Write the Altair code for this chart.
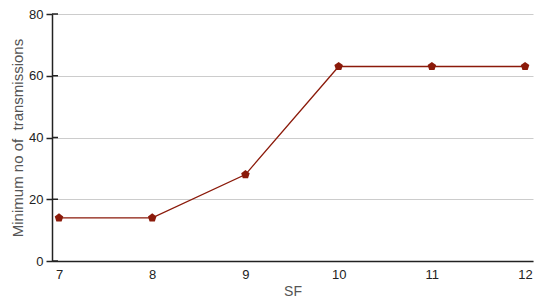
import altair as alt
import pandas as pd

sf = [7, 8, 9, 10, 11, 12]
min_tx = [14, 14, 28, 63, 63, 63]
y_ticks = [0, 20, 40, 60, 80]

df = pd.DataFrame({"SF": sf, "v": min_tx})
tick_df = pd.DataFrame({"t": y_ticks})

pent = "M0,-1L0.951,-0.309L0.588,0.809L-0.588,0.809L-0.951,-0.309Z"
color = "#8B1A0A"
font = "Liberation Sans"

xscale = alt.Scale(domain=[6.925, 12.085], nice=False, zero=False)
yscale = alt.Scale(domain=[0, 80], nice=False)

x_enc = alt.X("SF:Q", scale=xscale,
              axis=alt.Axis(values=sf, format="d", title="SF", grid=False, ticks=False,
                            domainColor="#222", domainWidth=1.5,
                            labelPadding=7, labelFontSize=13, labelColor="#222",
                            titleFontSize=14, titleFontWeight="normal",
                            titleColor="#555", titlePadding=3, labelFont=font, titleFont=font))
y_enc = alt.Y("v:Q", scale=yscale,
              axis=alt.Axis(values=y_ticks, title="Minimum no of\u00a0 transmissions",
                            grid=True, gridColor="#cccccc", gridWidth=1,
                            domainColor="#222", domainWidth=1.5,
                            tickColor="#222", tickSize=6, tickWidth=1.5,
                            labelPadding=3, labelFontSize=13, labelColor="#222",
                            titleFontSize=15, titleFontWeight="normal",
                            titleColor="#555", titlePadding=3, labelFont=font, titleFont=font))

line = alt.Chart(df).mark_line(color=color, strokeWidth=1.3).encode(x=x_enc, y=y_enc)
pts = alt.Chart(df).mark_point(shape=pent, filled=True, color=color, size=80, opacity=1).encode(
    x=alt.X("SF:Q", scale=xscale), y=alt.Y("v:Q", scale=yscale))
inner_ticks = alt.Chart(tick_df).mark_rule(color="#222", strokeWidth=1.5).encode(
    y=alt.Y("t:Q", scale=yscale), x=alt.value(0), x2=alt.value(6))

chart = alt.layer(line, inner_ticks, pts).properties(
    width=481, height=247,
    autosize=alt.AutoSizeParams(type="none"),
    padding={"left": 44, "top": 6, "right": 9, "bottom": 36},
).configure_view(stroke=None)

chart.save("out.html", embed_options={"renderer": "svg", "actions": False})
